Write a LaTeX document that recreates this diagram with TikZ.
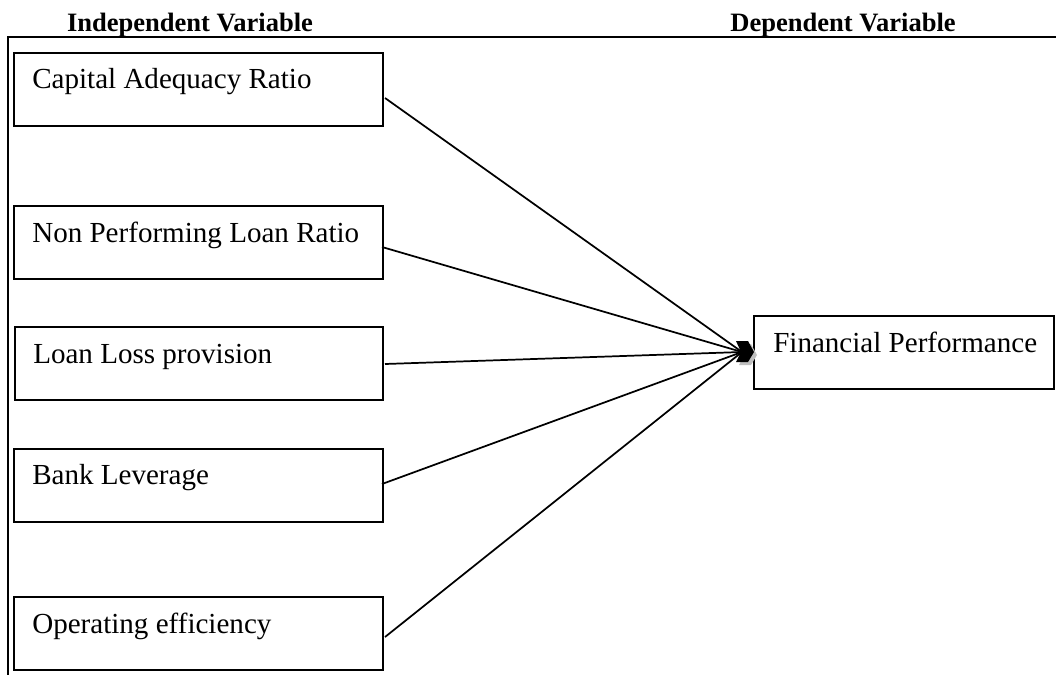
\documentclass[tikz,border=0pt]{standalone}
\usepackage{fontspec}
\setmainfont{Liberation Serif}
\usetikzlibrary{calc}
\tikzset{
  box/.style={draw, line width=1.5pt, minimum width=369, minimum height=73, anchor=north west, inner sep=0pt},
  lbl/.style={anchor=base west, inner sep=0pt, font=\fontsize{21.8}{26}\selectfont},
  hdr/.style={anchor=base, inner sep=0pt, font=\fontsize{19.9}{24}\selectfont\bfseries},
  conn/.style={line width=1.3pt},
  frame/.style={line width=1.3pt}
}
\begin{document}
\begin{tikzpicture}[x=0.75pt,y=-0.75pt]
\useasboundingbox (0,0) rectangle (1056,675);
% headers
\node[hdr] (h1) at (190,31) {Independent Variable};
\node[hdr] (h2) at (843,31) {Dependent Variable};
% frame
\coordinate (fTL) at (8,37);
\coordinate (fTR) at (1056,37);
\coordinate (fBL) at (8,675);
\draw[frame] (fTR) -- (fTL) -- (fBL);
% boxes (sizes in pt)
\node[box, minimum width=277, minimum height=55] (b1) at (13,52) {};
\node[box, minimum width=277, minimum height=55] (b2) at (13,205) {};
\node[box, minimum width=276, minimum height=55] (b3) at (14,326) {};
\node[box, minimum width=277, minimum height=55] (b4) at (13,448) {};
\node[box, minimum width=277, minimum height=55] (b5) at (13,596) {};
\node[box, minimum width=225, minimum height=55] (fp) at (753,315) {};
% labels
\node[lbl] (t1) at (32,88) {Capital Adequacy Ratio};
\node[lbl] (t2) at (32,242) {Non Performing Loan Ratio};
\node[lbl] (t3) at (33,363) {Loan Loss provision};
\node[lbl] (t4) at (32,484) {Bank Leverage};
\node[lbl] (t5) at (32,633) {Operating efficiency};
\node[lbl] (t6) at (773,352) {Financial Performance};
% connectors
\coordinate (tip) at (742,352);
\coordinate (s1) at (385,98);
\coordinate (s2) at (382,247);
\coordinate (s3) at (385,364);
\coordinate (s4) at (382,484);
\coordinate (s5) at (385,637);
\foreach \s in {s1,s2,s3,s4,s5} \draw[conn] (\s) -- (tip);
% arrowhead with shadow
\fill[gray!50] (739,344) -- (751,344) -- (757,355) -- (751,365) -- (739,365) -- (744,355) -- cycle;
\fill[black] (736,341) -- (748,341) -- (754,352) -- (748,362) -- (736,362) -- (741,352) -- cycle;
\end{tikzpicture}
\end{document}
